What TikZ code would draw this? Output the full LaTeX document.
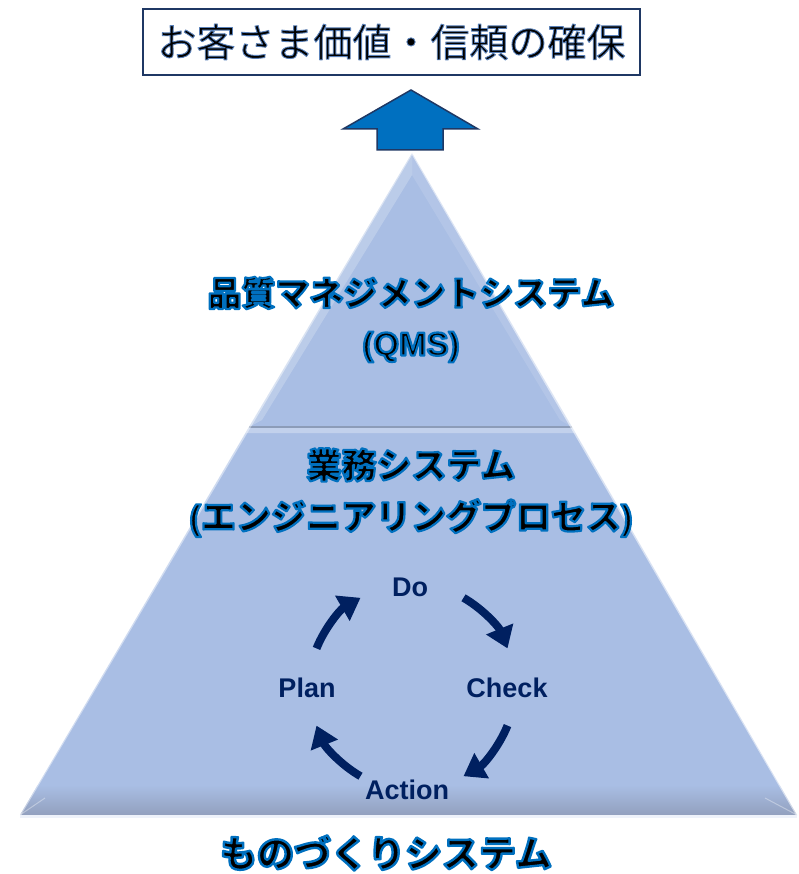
\documentclass[tikz,border=0pt]{standalone}
\usepackage{fontspec}
\usetikzlibrary{arrows.meta,calc}
\newfontfamily\jp{Noto Sans CJK JP}
\newfontfamily\arialf{Liberation Sans}
\definecolor{pyr}{RGB}{169,190,228}
\definecolor{pyrdark}{RGB}{146,160,190}
\definecolor{pyredge}{RGB}{140,156,184}
\definecolor{navy}{RGB}{0,32,96}
\definecolor{boxline}{RGB}{31,56,100}
\definecolor{arrowblue}{RGB}{0,112,192}
% outlined text: fill in current colour, stroke in given rgb
\newcommand\outl[3]{\special{pdf:literal direct #1 RG #2 w 1 j 2 Tr}#3\special{pdf:literal direct 0 Tr}}
\tikzset{
  jptitle/.style={font=\jp\bfseries\fontsize{34}{40}\selectfont, text=black, inner sep=0pt},
  pdca/.style={font=\arialf\bfseries\fontsize{27}{30}\selectfont, text=navy, inner sep=0pt},
  cyc/.style={draw=navy, line width=8pt, -{Triangle[width=28pt,length=21pt]}},
}
\begin{document}
\begin{tikzpicture}[x=1pt,y=-1pt]
\useasboundingbox (0,0) rectangle (798,874);
% pyramid
\coordinate (apex) at (412,153);
\coordinate (ml) at (249,427);
\coordinate (mr) at (572,427);
\coordinate (bl) at (20,815);
\coordinate (br) at (797,815);
\fill[pyr] (apex) -- (mr) -- (ml) -- cycle;
\fill[pyr] (ml) -- (mr) -- (br) -- (bl) -- cycle;
% bevel highlights
\fill[white,opacity=0.22] (apex) -- (412,175) -- (262,420) -- (ml) -- cycle;
\fill[white,opacity=0.12] (apex) -- (mr) -- (560,420) -- (412,175) -- cycle;
\begin{scope}
\clip (ml) -- (mr) -- (br) -- (bl) -- cycle;
\shade[top color=pyr, bottom color=pyrdark] (0,785) rectangle (798,815);
\fill[white,opacity=0.3] (ml) -- (mr) -- (577,433) -- (244,433) -- cycle;
\end{scope}
\draw[pyredge, line width=1.5pt] (ml) -- (mr);
\draw[white, opacity=0.45, line width=2pt] (apex) -- (bl);
\draw[white, opacity=0.55, line width=2pt] (apex) -- (br);
\draw[white, opacity=0.35, line width=1pt] (45,798) -- (bl);
\draw[white, opacity=0.35, line width=1pt] (765,798) -- (br);
\fill[white!80!pyr] (bl) rectangle (797,818);
% top box
\node[draw=boxline, line width=2pt, minimum width=497pt, minimum height=66pt, inner sep=0pt,
      font=\jp\fontsize{39}{44}\selectfont] (goal) at (391.5,42)
      {\outl{0.35 0.5 0.72}{0.9}{お客さま価値・信頼の確保}};
% block arrow
\fill[arrowblue, draw=boxline, line width=1.5pt]
  (411,90) -- (478,129) -- (443,129) -- (443,150) -- (377,150) -- (377,129) -- (343,129) -- cycle;
% texts
\node[jptitle] (qms1) at (411,293) {\outl{0 0.44 0.75}{2.2}{品質マネジメントシステム}};
\node[jptitle, font=\arialf\bfseries\fontsize{33}{38}\selectfont] (qms2) at (411,347) {\outl{0 0.44 0.75}{2.2}{(QMS)}};
\node[jptitle, font=\jp\bfseries\fontsize{35}{40}\selectfont] (gyo1) at (411,465) {\outl{0 0.44 0.75}{2.2}{業務システム}};
\node[jptitle, font=\jp\bfseries\fontsize{35}{40}\selectfont] (gyo2) at (411,518) {\outl{0 0.44 0.75}{2.2}{{\arialf(}エンジニアリングプロセス{\arialf)}}};
\node[jptitle, font=\jp\bfseries\fontsize{37}{42}\selectfont] (mono) at (386,853) {\outl{0 0.44 0.75}{2.4}{ものづくりシステム}};
% PDCA
\node[pdca] (do) at (410,587) {Do};
\node[pdca] (check) at (507,688) {Check};
\node[pdca] (plan) at (307,688) {Plan};
\node[pdca] (act) at (407,790) {Action};
\coordinate (c) at (412,687);
\draw[cyc] ($(c)+(-158:103)$) arc[start angle=-158, end angle=-120, radius=103];
\draw[cyc] ($(c)+(-60:103)$) arc[start angle=-60, end angle=-22, radius=103];
\draw[cyc] ($(c)+(22:103)$) arc[start angle=22, end angle=60, radius=103];
\draw[cyc] ($(c)+(120:103)$) arc[start angle=120, end angle=158, radius=103];
\end{tikzpicture}
\end{document}
